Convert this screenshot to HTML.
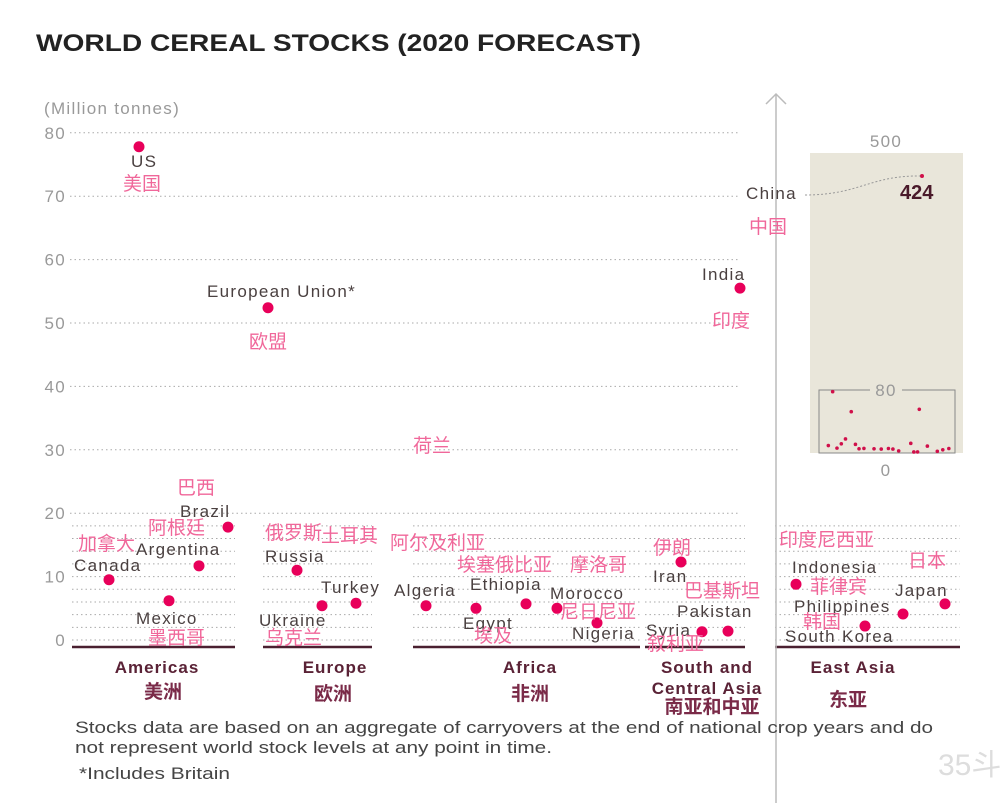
<!DOCTYPE html>
<html><head><meta charset="utf-8"><style>
body{margin:0;background:#fff;}
svg{display:block;font-family:"Liberation Sans","Noto Sans CJK SC",sans-serif;}
.lb{font-size:17px;fill:#4a4040;letter-spacing:1.3px;}
.zh{font-size:19px;fill:#f0679a;}
.tk{font-size:17px;fill:#999;letter-spacing:1.3px;}
.grp{font-size:17px;fill:#5a2236;font-weight:bold;letter-spacing:1px;}
.grpz{font-size:19px;fill:#7a2a48;font-weight:bold;}
</style></head><body>
<svg id="chart" width="1008" height="803" viewBox="0 0 1008 803">
<text x="36" y="51" font-size="24" font-weight="bold" fill="#222" textLength="605" lengthAdjust="spacingAndGlyphs">WORLD CEREAL STOCKS (2020 FORECAST)</text>
<text x="44" y="114" class="tk">(Million tonnes)</text>
<g id="grid"></g>
<g id="ticks"></g>
<g id="base"></g>
<line x1="776" y1="94" x2="776" y2="803" stroke="#bbb" stroke-width="1.5"/>
<polyline points="766,104 776,94 786,104" fill="none" stroke="#bbb" stroke-width="1.5"/>
<rect x="810" y="153" width="153" height="300" fill="#e9e6da"/>
<text x="886" y="147" class="tk" text-anchor="middle">500</text>
<text x="886" y="476" class="tk" text-anchor="middle">0</text>
<rect x="819" y="390" width="136" height="63" fill="none" stroke="#888" stroke-width="1"/>
<rect x="870" y="382" width="32" height="14" fill="#e9e6da"/>
<text x="886" y="396" class="tk" text-anchor="middle">80</text>
<path id="chinaLink" d="M805,195 C860,195 870,175 922,176" fill="none" stroke="#999" stroke-dasharray="2,2"/>
<text x="746" y="199" class="lb">China</text>
<text x="900" y="199" font-size="20" font-weight="bold" fill="#4a1a2a">424</text>
<text x="749" y="233" class="zh">中国</text>
<g id="inset"></g>
<g id="dots"></g>
<g>
<text x="131" y="167" class="lb">US</text><text x="123" y="190" class="zh">美国</text>
<text x="207" y="297" class="lb">European Union*</text><text x="249" y="348" class="zh">欧盟</text>
<text x="702" y="280" class="lb">India</text><text x="712" y="327" class="zh">印度</text>
<text x="413" y="452" class="zh">荷兰</text>
<text x="177" y="494" class="zh">巴西</text><text x="180" y="517" class="lb">Brazil</text>
<text x="148" y="534" class="zh">阿根廷</text><text x="136" y="555" class="lb">Argentina</text>
<text x="78" y="550" class="zh">加拿大</text><text x="74" y="571" class="lb">Canada</text>
<text x="136" y="624" class="lb">Mexico</text><text x="148" y="644" class="zh">墨西哥</text>
<text x="265" y="539" class="zh">俄罗斯</text><text x="265" y="562" class="lb">Russia</text>
<text x="321" y="542" class="zh">土耳其</text><text x="321" y="593" class="lb">Turkey</text>
<text x="259" y="626" class="lb">Ukraine</text><text x="265" y="644" class="zh">乌克兰</text>
<text x="390" y="549" class="zh">阿尔及利亚</text><text x="394" y="596" class="lb">Algeria</text>
<text x="457" y="571" class="zh">埃塞俄比亚</text><text x="470" y="590" class="lb">Ethiopia</text>
<text x="570" y="571" class="zh">摩洛哥</text><text x="550" y="599" class="lb">Morocco</text>
<text x="463" y="629" class="lb">Egypt</text><text x="474" y="642" class="zh">埃及</text>
<text x="560" y="618" class="zh">尼日尼亚</text><text x="572" y="639" class="lb">Nigeria</text>
<text x="653" y="554" class="zh">伊朗</text><text x="653" y="582" class="lb">Iran</text>
<text x="684" y="597" class="zh">巴基斯坦</text><text x="677" y="617" class="lb">Pakistan</text>
<text x="646" y="636" class="lb">Syria</text><text x="647" y="650" class="zh">叙利亚</text>
<text x="779" y="546" class="zh">印度尼西亚</text><text x="792" y="573" class="lb">Indonesia</text>
<text x="810" y="593" class="zh">菲律宾</text><text x="794" y="612" class="lb">Philippines</text>
<text x="803" y="628" class="zh">韩国</text><text x="785" y="642" class="lb">South Korea</text>
<text x="908" y="567" class="zh">日本</text><text x="895" y="596" class="lb">Japan</text>
</g>
<g>
<text x="157" y="673" class="grp" text-anchor="middle">Americas</text><text x="163" y="698" class="grpz" text-anchor="middle">美洲</text>
<text x="335" y="673" class="grp" text-anchor="middle">Europe</text><text x="333" y="700" class="grpz" text-anchor="middle">欧洲</text>
<text x="530" y="673" class="grp" text-anchor="middle">Africa</text><text x="530" y="700" class="grpz" text-anchor="middle">非洲</text>
<text x="707" y="673" class="grp" text-anchor="middle">South and</text><text x="707" y="694" class="grp" text-anchor="middle">Central Asia</text><text x="712" y="713" class="grpz" text-anchor="middle">南亚和中亚</text>
<text x="853" y="673" class="grp" text-anchor="middle">East Asia</text><text x="848" y="706" class="grpz" text-anchor="middle">东亚</text>
</g>
<text x="75" y="733" font-size="17" fill="#444" textLength="858" lengthAdjust="spacingAndGlyphs">Stocks data are based on an aggregate of carryovers at the end of national crop years and do</text>
<text x="75" y="753" font-size="17" fill="#444" textLength="477" lengthAdjust="spacingAndGlyphs">not represent world stock levels at any point in time.</text>
<text x="79" y="779" font-size="17" fill="#444" textLength="151" lengthAdjust="spacingAndGlyphs">*Includes Britain</text>
<text x="938" y="775" font-size="30" fill="#ddd">35斗</text>
</svg>
<script>
const countries=["US","European Union","India","Canada","Mexico","Argentina","Brazil","Russia","Ukraine","Turkey","Algeria","Egypt","Ethiopia","Morocco","Nigeria","Iran","Syria","Pakistan","Indonesia","South Korea","Philippines","Japan"];
const stocks=[77.8,52.4,55.5,9.5,6.2,11.7,17.8,11,5.4,5.8,5.4,5,5.7,5,2.7,12.3,1.3,1.4,8.8,2.2,4.1,5.7];
const chinaStock=424;
const tickLabels=[0,10,20,30,40,50,60,70,80];
const xPos=[139,268,740,109,169,199,228,297,322,356,426,476,526,557,597,681,702,728,796,865,903,945];
const groups=[[72,235],[263,372],[413,640],[645,745],[775,960]];
const NS="http://www.w3.org/2000/svg";
function y(v){return 640-v*6.34;}
function iy(v){return 453-v*63/80;}
function ix(px){return 823+(px-72)*(128/(960-72));}
function cy(v){return 453-v*277/424;}
function mk(t,a,p){const e=document.createElementNS(NS,t);for(const k in a)e.setAttribute(k,a[k]);p.appendChild(e);return e;}
const grid=document.getElementById('grid'),ticks=document.getElementById('ticks'),dots=document.getElementById('dots'),inset=document.getElementById('inset'),base=document.getElementById('base');
for(const t of tickLabels){
  if(t>=20){const l=mk('line',{x1:70,x2:740,y1:y(t),y2:y(t),stroke:'#aaa','stroke-dasharray':'1.5,3'},grid);}
  const tx=mk('text',{x:66,y:y(t)+6,'text-anchor':'end',class:'tk'},ticks);tx.textContent=t;
  
}
for(const g of groups){
  for(let v=0;v<20;v+=2){const l=mk('line',{x1:g[0],x2:g[1],y1:y(v),y2:y(v),stroke:'#aaa','stroke-dasharray':'1.5,3'},grid);}
  const b=mk('line',{x1:g[0],x2:g[1],y1:647,y2:647,stroke:'#4a2030','stroke-width':2.5},base);
  
}
stocks.forEach((v,i)=>{
  const c=mk('circle',{cx:xPos[i],cy:y(v),r:5.5,fill:'#e8005a'},dots);
  
  
  const s=mk('circle',{cx:ix(xPos[i]),cy:iy(v),r:1.8,fill:'#d0104a'},inset);
  
  
});
const cd=mk('circle',{cx:922,cy:cy(chinaStock),r:2,fill:'#d0104a'},inset);


</script>
</body></html>
